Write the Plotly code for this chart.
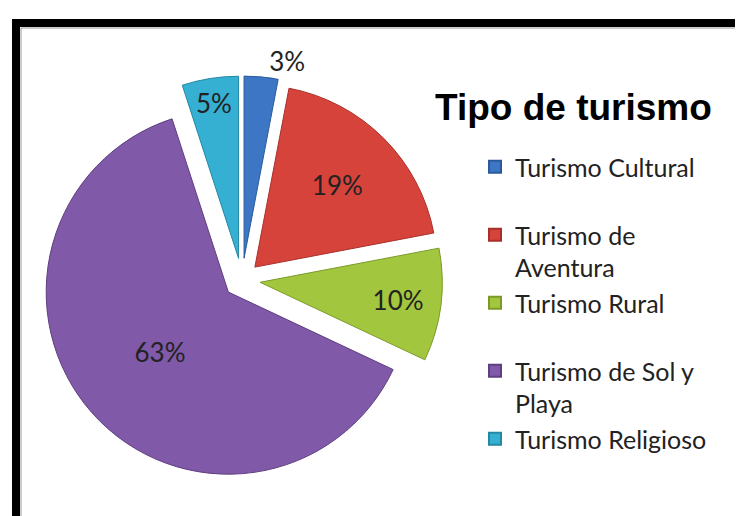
import plotly.graph_objects as go

# data
labels = ['Turismo Cultural<br>\u00a0', 'Turismo de<br>Aventura', 'Turismo Rural<br>\u00a0',
          'Turismo de Sol y<br>Playa', 'Turismo Religioso']
values = [3, 19, 10, 63, 5]
slice_colors = ['#3c76c4', '#d5433b', '#a2c63e', '#8059a8', '#35b0d2']
edge_colors = ['#2a5a9a', '#a8302a', '#7c9a2a', '#5e3f80', '#2487a3']
text_pos = ['outside', 'inside', 'inside', 'inside', 'inside']

W, H = 743, 516

fig = go.Figure()
fig.add_trace(go.Pie(
    labels=labels, values=values,
    sort=False, direction='clockwise', rotation=0,
    pull=[0.12, 0.1, 0.1, 0.1, 0.12],
    marker=dict(colors=slice_colors, line=dict(color=edge_colors, width=1)),
    textinfo='percent', texttemplate='%{percent:.0%}',
    textposition=text_pos, insidetextorientation='horizontal',
    textfont=dict(family='Lato', size=26, color='#222222'),
    domain=dict(x=[30 / W, 438 / W], y=[1 - 476 / H, 1 - 68 / H]),
    hoverinfo='label+percent',
))

fig.update_layout(
    width=W, height=H,
    margin=dict(l=0, r=0, t=0, b=0, autoexpand=False),
    paper_bgcolor='white',
    title=dict(text='<b>Tipo de turismo</b>', x=427 / W, xanchor='left',
               y=1 - 99 / H, yanchor='middle',
               font=dict(family='Liberation Sans', size=37, color='black')),
    legend=dict(x=467 / W, y=1 - 136 / H, xanchor='left', yanchor='top',
                valign='top',
                font=dict(family='Lato', size=25, color='#222222'),
                itemsizing='constant', tracegroupgap=0),
    showlegend=True,
    shapes=[
        # black frame round the chart (cut off at right and bottom)
        dict(type='rect', xref='paper', yref='paper',
             x0=8 / W, x1=1.05, y0=-0.05, y1=1 - 15 / H,
             line=dict(color='black', width=8)),
        dict(type='rect', xref='paper', yref='paper',
             x0=13 / W, x1=1.05, y0=-0.05, y1=1 - 20 / H,
             line=dict(color='#999999', width=1)),
    ],
)

fig.write_html('out.html')
